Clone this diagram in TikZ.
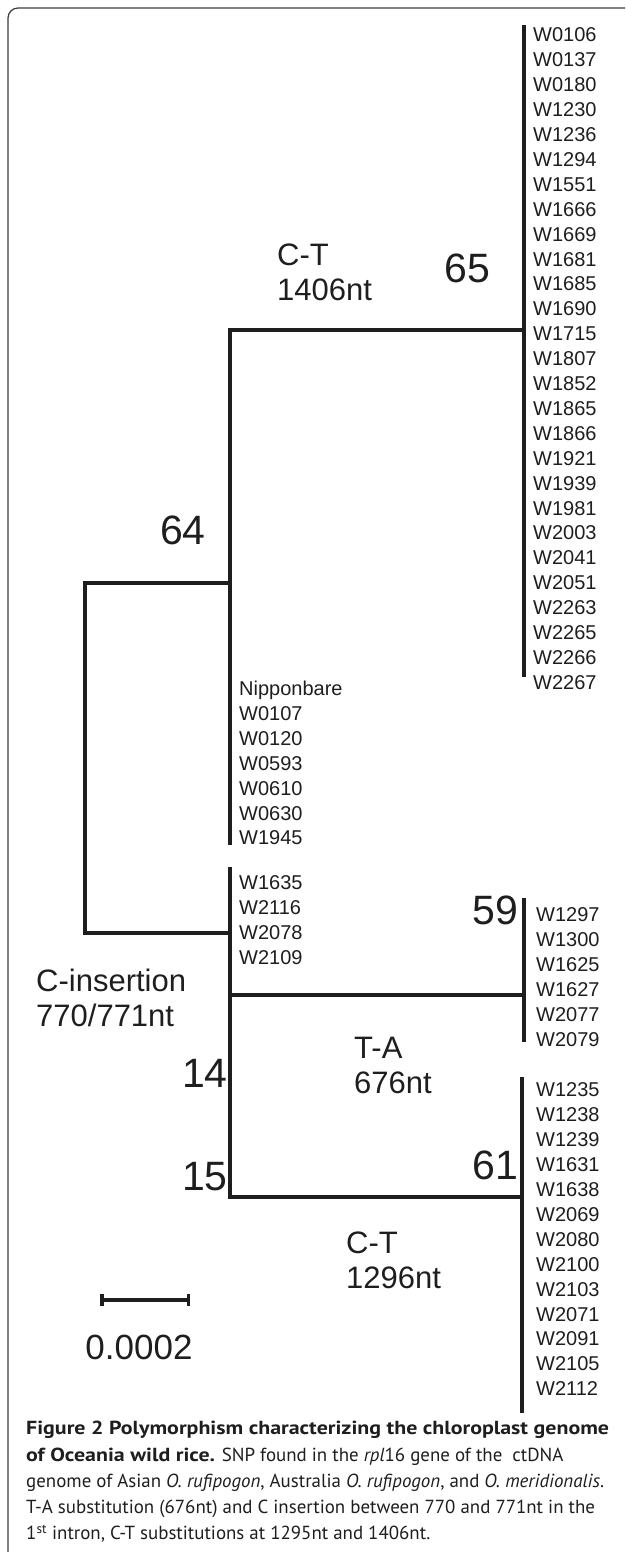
\documentclass[tikz,border=0pt]{standalone}
\usepackage{fontspec}
\setmainfont{PT Sans}[BoldFeatures={FakeStretch=1.16}]
\newfontfamily\treefont{Liberation Sans}
\usetikzlibrary{arrows.meta}
\definecolor{inkgray}{HTML}{1E1E1E}
\definecolor{framegray}{HTML}{3C3C3C}

\begin{document}
\begin{tikzpicture}[
  x=1pt, y=-1pt,
  branch/.style={line width=4pt,draw=inkgray,line join=miter},
  taxa/.style={font=\treefont\fontsize{20}{24.9}\selectfont,align=left,anchor=north west,inner sep=0pt,text=inkgray},
  support/.style={font=\treefont\fontsize{41}{41}\selectfont,anchor=west,inner sep=0pt,text=inkgray},
  mutation/.style={font=\treefont\fontsize{31}{35}\selectfont,align=left,anchor=west,inner sep=0pt,text=inkgray},
  caption/.style={font=\fontsize{18.9}{26.3}\selectfont,align=left,anchor=north west,inner sep=0pt,text=inkgray}
]
  \useasboundingbox (0,0) rectangle (625,1552);
  % frame of the figure
  \draw[framegray,line width=1.2pt,rounded corners=10pt] (8,1552) |- (625,8);

  % junctions of the tree
  \coordinate (root-a) at (85,583);
  \coordinate (root-b) at (85,933);
  \coordinate (n64-a) at (230,330);
  \coordinate (n64-b) at (230,845);
  \coordinate (n14-a) at (230,867);
  \coordinate (n14-b) at (230,1197);
  \coordinate (nTA) at (230,995);
  \coordinate (t65-a) at (524,25);
  \coordinate (t65-b) at (524,677);
  \coordinate (t59-a) at (524,898);
  \coordinate (t59-b) at (524,1042);
  \coordinate (t61-a) at (522,1077);
  \coordinate (t61-b) at (522,1413);

  % branches
  \draw[branch] (n64-a |- root-a) -- (root-a) -- (root-b) -- (n14-a |- root-b);
  \draw[branch] (t65-a |- n64-a) -- (n64-a) -- (n64-b);
  \draw[branch] (n14-a) -- (n14-b) -- (t61-a |- n14-b);
  \draw[branch] (nTA) -- (t59-a |- nTA);
  \draw[branch] (t65-a) -- (t65-b);
  \draw[branch] (t59-a) -- (t59-b);
  \draw[branch] (t61-a) -- (t61-b);

  % accessions
  \node[taxa] (clade65) at (533,27.8) {W0106\\W0137\\W0180\\W1230\\W1236\\W1294\\W1551\\W1666\\W1669\\W1681\\W1685\\W1690\\W1715\\W1807\\W1852\\W1865\\W1866\\W1921\\W1939\\W1981\\W2003\\W2041\\W2051\\W2263\\W2265\\W2266\\W2267};
  \node[taxa] (clade64) at (239,680.8) {Nipponbare\\W0107\\W0120\\W0593\\W0610\\W0630\\W1945};
  \node[taxa] (clade14) at (239,875.8) {W1635\\W2116\\W2078\\W2109};
  \node[taxa] (clade59) at (536,907.8) {W1297\\W1300\\W1625\\W1627\\W2077\\W2079};
  \node[taxa] (clade61) at (536,1082.8) {W1235\\W1238\\W1239\\W1631\\W1638\\W2069\\W2080\\W2100\\W2103\\W2071\\W2091\\W2105\\W2112};

  % bootstrap values
  \node[support] (bs65) at (444,268) {65};
  \node[support] (bs64) at (160,530) {64};
  \node[support] (bs59) at (472,910) {59};
  \node[support] (bs14) at (182,1073) {14};
  \node[support] (bs15) at (182,1177) {15};
  \node[support] (bs61) at (472,1165) {61};

  % substitutions
  \node[mutation] (mutCT1406) at (277,272.5) {C-T\\1406nt};
  \node[mutation] (mutCins) at (36,997.5) {C-insertion\\770/771nt};
  \node[mutation] (mutTA) at (354,1065) {T-A\\676nt};
  \node[mutation] (mutCT1296) at (346,1260) {C-T\\1296nt};

  % scale bar
  \coordinate (bar-l) at (100,1300);
  \coordinate (bar-r) at (190,1300);
  \draw[inkgray,line width=3.5pt,{Bar[width=12pt,line width=3.5pt]}-{Bar[width=12pt,line width=3.5pt]}] (bar-l) -- (bar-r);
  \node[font=\treefont\fontsize{35}{35}\selectfont,text=inkgray,inner sep=0pt] (barval) at (139,1347) {0.0002};

  % legend
  \node[caption] (legend) at (26,1421) {\textbf{Figure 2 Polymorphism characterizing the chloroplast genome}\\
    \textbf{of Oceania wild rice.} SNP found in the \textit{rpl}16 gene of the\ \ ctDNA\\
    genome of Asian \textit{O. rufipogon}, Australia \textit{O. rufipogon}, and \textit{O. meridionalis}.\\
    T-A substitution (676nt) and C insertion between 770 and 771nt in the\\
    1\textsuperscript{st} intron, C-T substitutions at 1295nt and 1406nt.};
\end{tikzpicture}
\end{document}
